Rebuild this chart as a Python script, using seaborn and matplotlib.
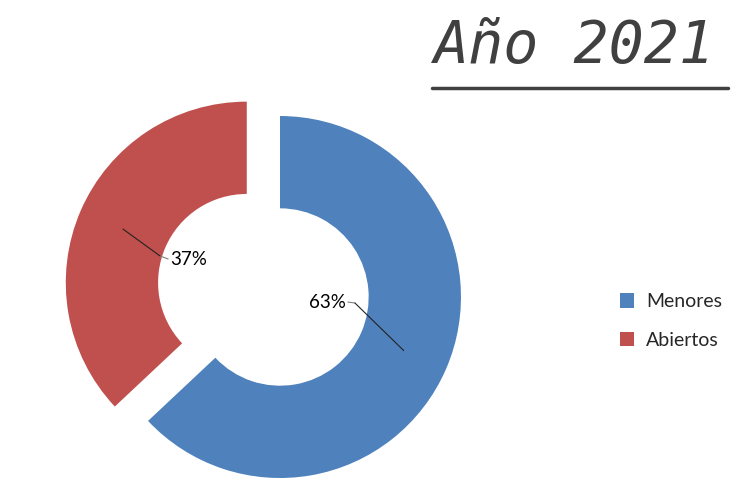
import numpy as np
import matplotlib
matplotlib.use("Agg")
import matplotlib.pyplot as plt
from matplotlib.lines import Line2D
import seaborn as sns

categories = ["Menores", "Abiertos"]
values = [63, 37]
colors = ["#4F81BD", "#C0504D"]
title = "Año 2021"

sns.set_theme(style="white")
plt.rcParams["font.family"] = ["Lato", "DejaVu Sans"]

fig = plt.figure(figsize=(7.5, 5), dpi=100)
ax = fig.add_axes([0, 0, 1, 1])
wedges, _ = ax.pie(
    values,
    colors=colors,
    startangle=90,
    counterclock=False,
    explode=[0, 0.2],
    radius=1,
    wedgeprops=dict(width=0.51, edgecolor="none"),
)
ax.set_aspect("auto")
ax.set_xlim(-1.547, 2.597)
ax.set_ylim(-1.1215, 1.641)
ax.axis("off")

# percentage labels with leader lines (text placed in the hole, like the original)
label_pos = [(0.365, -0.028, "right"), (-0.608, 0.21, "left")]
elbows = [(0.414, -0.033), (-0.663, 0.227)]
total = sum(values)
for w, v, (tx, ty, ha), (ex, ey) in zip(wedges, values, label_pos, elbows):
    mid = np.deg2rad((w.theta1 + w.theta2) / 2)
    cx, cy = w.center
    r = 1 - 0.51 / 2
    px, py = cx + r * np.cos(mid), cy + r * np.sin(mid)
    ax.text(tx, ty, f"{round(100 * v / total)}%", ha=ha, va="center",
            fontsize=13.5, color="black")
    sx = tx + (0.01 if ha == "right" else -0.01)
    ax.plot([sx, ex], [ty, ey], color="#7f7f7f", lw=0.8)
    ax.plot([ex, px], [ey, py], color="#222222", lw=0.8)

fig.legend(
    handles=wedges,
    labels=categories,
    loc="center left",
    bbox_to_anchor=(602 / 750, 1 - 321 / 500),
    frameon=False,
    handlelength=0.75,
    handleheight=0.75,
    handletextpad=0.6,
    labelspacing=1.1,
    fontsize=14,
)

fig.text(433 / 750, 1 - 47 / 500, title, fontsize=42, style="italic",
         family=["DejaVu Sans Mono"], color="#404040", ha="left", va="center")
fig.add_artist(Line2D([432 / 750, 728 / 750], [1 - 88 / 500] * 2,
                      color="#404040", lw=2.5))

fig.savefig("out.png", dpi=100)
